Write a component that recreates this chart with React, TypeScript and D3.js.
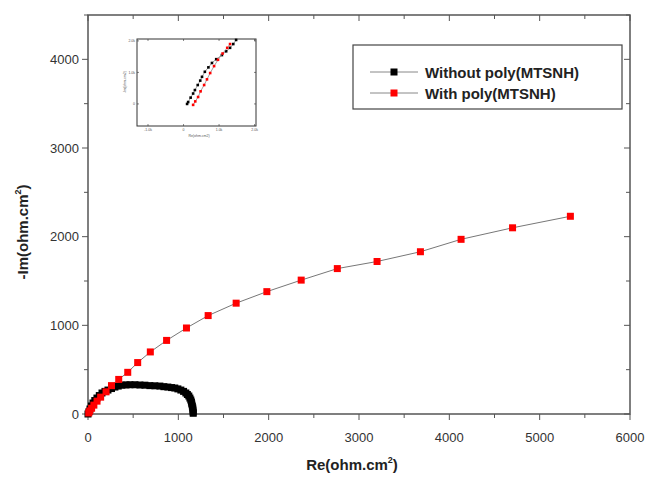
import React, { useEffect, useRef } from 'react';
import * as d3 from 'd3';

// main plot: Nyquist data (Re, -Im) in ohm.cm2
const withoutRe = [0, 10, 22, 38, 55, 75, 99, 125, 155, 188, 221, 260, 298, 335, 376, 420, 464, 520, 575, 630, 685, 740, 796, 840, 884, 925, 961, 995, 1028, 1058, 1083, 1100, 1116, 1128, 1138, 1145, 1149, 1155, 1160, 1162, 1164, 1165];
const withoutIm = [0, 25, 56, 90, 124, 152, 180, 208, 237, 255, 270, 287, 304, 315, 325, 328, 330, 330, 327, 325, 320, 318, 315, 308, 304, 298, 293, 283, 270, 255, 237, 220, 203, 180, 158, 135, 113, 90, 68, 45, 22, 8];

const withRe = [8, 20, 40, 65, 100, 140, 200, 260, 340, 440, 550, 690, 870, 1090, 1330, 1640, 1980, 2360, 2760, 3200, 3680, 4130, 4700, 5340];
const withIm = [12, 35, 65, 100, 145, 190, 250, 320, 390, 470, 580, 700, 830, 970, 1110, 1250, 1380, 1510, 1640, 1720, 1830, 1970, 2100, 2230];

const xTicks = [0, 1000, 2000, 3000, 4000, 5000, 6000];
const yTicks = [0, 1000, 2000, 3000, 4000];

// inset (zoom near the origin, arbitrary units)
const insetWithoutX = [1.10, 1.13, 1.20, 1.27, 1.32, 1.40, 1.47, 1.52, 1.60, 1.70, 1.80, 1.92, 2.08, 2.20, 2.31, 2.40, 2.48];
const insetWithoutY = [0.00, 0.06, 0.20, 0.33, 0.44, 0.60, 0.74, 0.86, 1.02, 1.16, 1.30, 1.42, 1.55, 1.67, 1.78, 1.90, 2.03];
const insetWithX = [1.27, 1.33, 1.41, 1.48, 1.58, 1.66, 1.75, 1.86, 1.97, 2.10, 2.23, 2.31];
const insetWithY = [-0.03, 0.08, 0.22, 0.40, 0.60, 0.78, 0.98, 1.20, 1.40, 1.60, 1.78, 1.90];
const insetXTicks = [0, 1, 2, 3];
const insetXLabels = ['-1.0k', '0', '1.0k', '2.0k'];
const insetYTicks = [0, 1, 2];
const insetYLabels = ['0', '1.0k', '2.0k'];

const series = [
  { name: 'Without poly(MTSNH)', re: withoutRe, im: withoutIm, color: '#000000', inX: insetWithoutX, inY: insetWithoutY },
  { name: 'With poly(MTSNH)', re: withRe, im: withIm, color: '#ff0000', inX: insetWithX, inY: insetWithY },
];

const App: React.FC = () => {
  const svgRef = useRef<SVGSVGElement>(null);

  useEffect(() => {
    if (!svgRef.current) return;
    const svg = d3.select(svgRef.current);
    svg.selectAll('*').remove();

    const left = 88, right = 630, top = 15, bottom = 414;
    const x = d3.scaleLinear().domain([0, 6000]).range([left, right]);
    const y = d3.scaleLinear().domain([0, 4500]).range([bottom, top]);
    const axisColor = '#555';
    const font = 'Liberation Sans, Arial, sans-serif';

    // frame
    svg.append('rect')
      .attr('x', left).attr('y', top)
      .attr('width', right - left).attr('height', bottom - top)
      .attr('fill', 'none').attr('stroke', axisColor).attr('stroke-width', 1.5);

    // ticks (bottom/left outward, top/right inward)
    const minorX = d3.range(0, 6001, 500);
    const minorY = d3.range(0, 4501, 500);
    const tk = svg.append('g').attr('stroke', axisColor).attr('stroke-width', 1);
    minorX.forEach(v => {
      const len = v % 1000 === 0 ? 6 : 4;
      tk.append('line').attr('x1', x(v)).attr('x2', x(v)).attr('y1', bottom).attr('y2', bottom + len);
      tk.append('line').attr('x1', x(v)).attr('x2', x(v)).attr('y1', top).attr('y2', top + len);
    });
    minorY.forEach(v => {
      const len = v % 1000 === 0 ? 6 : 4;
      tk.append('line').attr('x1', left).attr('x2', left - len).attr('y1', y(v)).attr('y2', y(v));
      tk.append('line').attr('x1', right).attr('x2', right - len).attr('y1', y(v)).attr('y2', y(v));
    });

    // tick labels
    svg.append('g').selectAll('text').data(xTicks).enter().append('text')
      .attr('x', d => x(d)).attr('y', 442)
      .attr('text-anchor', 'middle')
      .style('font-family', font).style('font-size', '13px').style('fill', '#333')
      .text(d => d);
    svg.append('g').selectAll('text').data(yTicks).enter().append('text')
      .attr('x', left - 9).attr('y', d => y(d) + 4.5)
      .attr('text-anchor', 'end')
      .style('font-family', font).style('font-size', '13px').style('fill', '#333')
      .text(d => d);

    // axis titles
    const xt = svg.append('text')
      .attr('x', 352).attr('y', 470).attr('text-anchor', 'middle')
      .style('font-family', font).style('font-size', '15px').style('font-weight', 'bold').style('fill', '#222');
    xt.append('tspan').text('Re(ohm.cm');
    xt.append('tspan').attr('dy', -7).style('font-size', '9px').text('2');
    xt.append('tspan').attr('dy', 7).text(')');

    const yt = svg.append('text')
      .attr('transform', 'translate(28,232) rotate(-90)').attr('text-anchor', 'middle')
      .style('font-family', font).style('font-size', '15px').style('font-weight', 'bold').style('fill', '#222');
    yt.append('tspan').text('-Im(ohm.cm');
    yt.append('tspan').attr('dy', -7).style('font-size', '9px').text('2');
    yt.append('tspan').attr('dy', 7).text(')');

    // series
    const line = d3.line<[number, number]>().x(d => x(d[0])).y(d => y(d[1]));
    series.forEach(s => {
      const pts: [number, number][] = s.re.map((r, i) => [r, s.im[i]]);
      svg.append('path').datum(pts)
        .attr('d', line).attr('fill', 'none').attr('stroke', '#777').attr('stroke-width', 1);
      svg.append('g').selectAll('rect').data(pts).enter().append('rect')
        .attr('x', d => x(d[0]) - 3.5).attr('y', d => y(d[1]) - 3.5)
        .attr('width', 7).attr('height', 7).attr('fill', s.color);
    });

    // legend
    svg.append('rect').attr('x', 353).attr('y', 45).attr('width', 269).attr('height', 64)
      .attr('fill', 'white').attr('stroke', '#444').attr('stroke-width', 1.2);
    series.forEach((s, i) => {
      const ly = 72 + i * 21;
      svg.append('line').attr('x1', 370).attr('x2', 418).attr('y1', ly).attr('y2', ly)
        .attr('stroke', '#888').attr('stroke-width', 1);
      svg.append('rect').attr('x', 390.5).attr('y', ly - 3.5).attr('width', 7).attr('height', 7).attr('fill', s.color);
      svg.append('text').attr('x', 425).attr('y', ly + 5.5)
        .style('font-family', font).style('font-size', '15px').style('font-weight', 'bold').style('fill', '#222')
        .text(s.name);
    });

    // inset
    const il = 137, ir = 256, it = 39, ib = 126;
    const ix = d3.scaleLinear().domain([-0.31, 3.04]).range([il, ir]);
    const iy = d3.scaleLinear().domain([-0.7, 2.06]).range([ib, it]);
    const inset = svg.append('g');
    inset.append('rect').attr('x', il).attr('y', it).attr('width', ir - il).attr('height', ib - it)
      .attr('fill', 'white').attr('stroke', '#333').attr('stroke-width', 1);
    insetXTicks.forEach((v, i) => {
      inset.append('line').attr('x1', ix(v)).attr('x2', ix(v)).attr('y1', ib).attr('y2', ib - 2).attr('stroke', '#333').attr('stroke-width', 0.6);
      inset.append('line').attr('x1', ix(v)).attr('x2', ix(v)).attr('y1', it).attr('y2', it + 2).attr('stroke', '#333').attr('stroke-width', 0.6);
      inset.append('text').attr('x', ix(v)).attr('y', ib + 5).attr('text-anchor', 'middle')
        .style('font-family', font).style('font-size', '3.5px').style('fill', '#555').text(insetXLabels[i]);
    });
    insetYTicks.forEach((v, i) => {
      inset.append('line').attr('x1', il).attr('x2', il + 2).attr('y1', iy(v)).attr('y2', iy(v)).attr('stroke', '#333').attr('stroke-width', 0.6);
      inset.append('line').attr('x1', ir).attr('x2', ir - 2).attr('y1', iy(v)).attr('y2', iy(v)).attr('stroke', '#333').attr('stroke-width', 0.6);
      inset.append('text').attr('x', il - 2).attr('y', iy(v) + 1.2).attr('text-anchor', 'end')
        .style('font-family', font).style('font-size', '3.5px').style('fill', '#555').text(insetYLabels[i]);
    });
    inset.append('text').attr('x', 199).attr('y', 137).attr('text-anchor', 'middle')
      .style('font-family', font).style('font-size', '3.5px').style('fill', '#555').text('Re(ohm.cm2)');
    inset.append('text').attr('transform', 'translate(126,82) rotate(-90)').attr('text-anchor', 'middle')
      .style('font-family', font).style('font-size', '3.5px').style('fill', '#555').text('-Im(ohm.cm2)');
    const iline = d3.line<[number, number]>().x(d => ix(d[0])).y(d => iy(d[1]));
    series.forEach(s => {
      const pts: [number, number][] = s.inX.map((v, i) => [v, s.inY[i]]);
      inset.append('path').datum(pts).attr('d', iline).attr('fill', 'none').attr('stroke', '#888').attr('stroke-width', 0.8);
      inset.append('g').selectAll('rect').data(pts).enter().append('rect')
        .attr('x', d => ix(d[0]) - 1.3).attr('y', d => iy(d[1]) - 1.3)
        .attr('width', 2.6).attr('height', 2.6).attr('fill', s.color);
    });
  }, []);

  return (
    <svg ref={svgRef} width="648" height="478" viewBox="0 0 648 478"
      style={{ position: 'absolute', left: 0, top: 0, background: 'white' }}></svg>
  );
};

export default App;
